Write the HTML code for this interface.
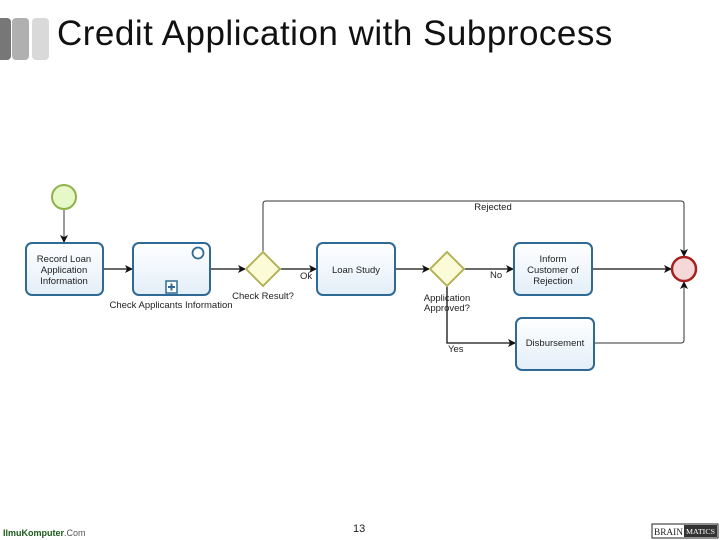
<!DOCTYPE html>
<html><head><style>
body{margin:0;width:720px;height:540px;background:#fff;overflow:hidden;position:relative;font-family:"Liberation Sans",sans-serif}
.t{position:absolute;left:57px;top:14px;font-size:35px;color:#111;letter-spacing:0.5px}
</style></head><body>
<div style="position:absolute;left:-4px;top:18px;width:15px;height:42px;background:#777;border-radius:4px"></div>
<div style="position:absolute;left:12px;top:18px;width:17px;height:42px;background:#b0b0b0;border-radius:4px"></div>
<div style="position:absolute;left:32px;top:18px;width:17px;height:42px;background:#d9d9d9;border-radius:4px"></div>
<div class="t">Credit Application with Subprocess</div>
<svg width="720" height="540" style="position:absolute;left:0;top:0" font-family="Liberation Sans, sans-serif" font-size="9.5" fill="#222">
<defs>
<linearGradient id="g" x1="0" y1="0" x2="0" y2="1"><stop offset="0" stop-color="#fff"/><stop offset="1" stop-color="#e3eef8"/></linearGradient>
<marker id="a" markerWidth="8" markerHeight="8" refX="7" refY="4" orient="auto" markerUnits="userSpaceOnUse"><path d="M0,0 L8,4 L0,8 L2,4z" fill="#111"/></marker>
</defs>
<g stroke="#111" stroke-width="1.3" fill="none">
<line x1="64" y1="209" x2="64" y2="242" marker-end="url(#a)" stroke="#666"/>
<line x1="103" y1="269" x2="132" y2="269" marker-end="url(#a)"/>
<line x1="210" y1="269" x2="245" y2="269" marker-end="url(#a)"/>
<line x1="280" y1="269" x2="316" y2="269" marker-end="url(#a)"/>
<line x1="395" y1="269" x2="429" y2="269" marker-end="url(#a)"/>
<line x1="464" y1="269" x2="513" y2="269" marker-end="url(#a)"/>
<line x1="592" y1="269" x2="671" y2="269" marker-end="url(#a)"/>
<path d="M263,252 V204 Q263,201 266,201 H681 Q684,201 684,204 V256" marker-end="url(#a)" stroke="#333" stroke-width="1"/>
<path d="M447,286 V343 H515" marker-end="url(#a)"/>
<path d="M594,343 H681 Q684,343 684,340 V282" marker-end="url(#a)" stroke="#333" stroke-width="1"/>
</g>
<circle cx="64" cy="197" r="12" fill="#e6f7c8" stroke="#8fb24a" stroke-width="2"/>
<g fill="url(#g)" stroke="#2f6a96" stroke-width="2">
<rect x="26" y="243" width="77" height="52" rx="6"/>
<rect x="133" y="243" width="77" height="52" rx="6"/>
<rect x="317" y="243" width="78" height="52" rx="6"/>
<rect x="514" y="243" width="78" height="52" rx="6"/>
<rect x="516" y="318" width="78" height="52" rx="6"/>
</g>
<circle cx="198" cy="253" r="5.5" fill="#fff" stroke="#2f6a96" stroke-width="1.8"/>
<rect x="166" y="281" width="11" height="12" fill="#fff" stroke="#2f6a96" stroke-width="1.5"/>
<path d="M171.5,283.5v7M168,287h7" stroke="#2f6a96" stroke-width="2"/>
<g fill="#fbfbd8" stroke="#b3b35a" stroke-width="2">
<polygon points="263,252 280,269 263,286 246,269"/>
<polygon points="447,252 464,269 447,286 430,269"/>
</g>
<circle cx="684" cy="269" r="12" fill="#f7d8d8" stroke="#a82020" stroke-width="2.5"/>
<g text-anchor="middle">
<text x="64" y="262">Record Loan</text><text x="64" y="273">Application</text><text x="64" y="284">Information</text>
<text x="171" y="308">Check Applicants Information</text>
<text x="263" y="299">Check Result?</text>
<text x="356" y="273">Loan  Study</text>
<text x="553" y="262">Inform</text><text x="553" y="273">Customer of</text><text x="553" y="284">Rejection</text>
<text x="555" y="346">Disbursement</text>
<text x="447" y="301">Application</text><text x="447" y="311">Approved?</text>
<text x="493" y="210">Rejected</text>
</g>
<text x="300" y="279">Ok</text>
<text x="490" y="278">No</text>
<text x="448" y="352">Yes</text>
<text x="353" y="532" font-size="11">13</text>
<text x="3" y="536" font-size="9" font-weight="bold" fill="#1a5a1a">IlmuKomputer<tspan font-weight="normal" fill="#555">.Com</tspan></text>
<rect x="652" y="524" width="66" height="14" fill="#fff" stroke="#222"/>
<rect x="684" y="525" width="33" height="12" fill="#333"/>
<text x="654" y="535" font-size="9" font-family="Liberation Serif, serif" textLength="29" lengthAdjust="spacingAndGlyphs">BRAIN</text>
<text x="686" y="534" font-size="7" fill="#fff" font-family="Liberation Serif, serif" textLength="29" lengthAdjust="spacingAndGlyphs">MATICS</text>
</svg>
</body></html>
